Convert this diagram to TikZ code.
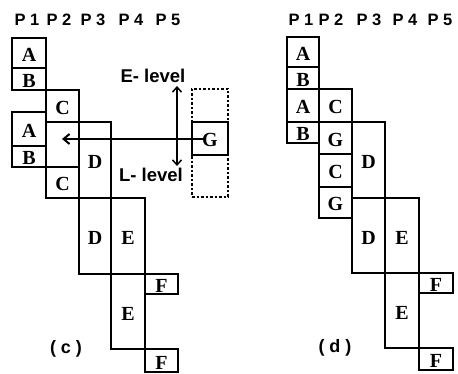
\documentclass[tikz,border=0pt]{standalone}
\usepackage{fontspec}
\newfontfamily\hdrfont{Liberation Sans}
\newfontfamily\boxfont{Liberation Serif}
\usetikzlibrary{arrows.meta}
\tikzset{
  box/.style={draw, line width=1.6pt, inner sep=0pt, text height=17pt, text depth=0pt, font=\boxfont\fontsize{20}{20}\selectfont\bfseries},
  slot/.style={draw, dashed, dash pattern=on 2.5pt off 2pt, line width=1.5pt, inner sep=0pt},
  hdr/.style={font=\hdrfont\fontsize{16.5}{16.5}\selectfont\bfseries, inner sep=0pt},
  lvl/.style={font=\hdrfont\fontsize{18.5}{18.5}\selectfont\bfseries, inner sep=0pt},
  captxt/.style={font=\hdrfont\fontsize{18}{18}\selectfont\bfseries, inner sep=0pt},
  mainarrow/.style={line width=2.6pt, -{Straight Barb[length=6pt,width=10pt,line width=2pt]}},
  levarrow/.style={line width=1.5pt, {Straight Barb[length=5pt,width=9pt]}-{Straight Barb[length=5pt,width=9pt]}}
}
\newcommand{\bx}[7][box]{\node[#1, minimum width={(#5-#3)*1pt}, minimum height={(#6-#4)*1pt}] (#2) at ({(#3+#5)/2},{(#4+#6)/2}) {#7};}
\begin{document}
\begin{tikzpicture}[x=1pt,y=-1pt]
\useasboundingbox (0,0) rectangle (458,374);
% headers (c)
\node[hdr] (hc1) at (27,20) {P 1};
\node[hdr] (hc2) at (59,20) {P 2};
\node[hdr] (hc3) at (93,20) {P 3};
\node[hdr] (hc4) at (131,20) {P 4};
\node[hdr] (hc5) at (168,20) {P 5};
% headers (d)
\node[hdr] (hd1) at (301,20) {P 1};
\node[hdr] (hd2) at (331,20) {P 2};
\node[hdr] (hd3) at (369,20) {P 3};
\node[hdr] (hd4) at (405,20) {P 4};
\node[hdr] (hd5) at (440,20) {P 5};
% diagram (c)
\bx{cA1}{12}{38}{46}{68}{A}
\bx{cB1}{12}{68}{46}{90}{B}
\bx{cC1}{46}{90}{79}{122}{C}
\bx{cA2}{12}{112}{46}{146}{A}
\bx{cB2}{12}{146}{46}{167}{B}
\bx{cVac}{46}{122}{79}{167}{}
\bx{cC2}{46}{167}{79}{198}{C}
\bx{cD1}{79}{122}{111}{198}{D}
\bx{cD2}{79}{198}{111}{274}{D}
\bx{cE1}{111}{198}{145}{274}{E}
\bx{cE2}{111}{274}{145}{349}{E}
\bx{cF1}{145}{274}{178}{294}{F\hspace{3pt}}
\bx{cF2}{145}{349}{178}{372}{F\hspace{3pt}}
\bx[slot]{cSlot}{192}{89}{228}{197}{}
\coordinate (tip) at (62,139);
\draw[mainarrow] (205,139) -- (tip);
\bx{cG}{192}{122}{228}{155}{G\hspace{3pt}}
\node[lvl] (elev) at (153,76) {E- level};
\node[lvl] (llev) at (151,175) {L- level};
\draw[levarrow] ([yshift=-3pt]elev.south -| 177,0) coordinate (lt) -- ([yshift=2pt]llev.north -| 177,0) coordinate (lb);
\node[captxt] (capc) at (66,349) {(\hspace{5pt}c\hspace{5pt})};
% diagram (d)
\bx{dA1}{287}{37}{319}{67}{A}
\bx{dB1}{287}{67}{319}{89}{B}
\bx{dA2}{287}{89}{319}{122}{A}
\bx{dB2}{287}{122}{319}{143}{B}
\bx{dC1}{319}{89}{352}{122}{C}
\bx{dG1}{319}{122}{352}{154}{G}
\bx{dC2}{319}{154}{352}{187}{C}
\bx{dG2}{319}{187}{352}{218}{G}
\bx{dD1}{352}{122}{385}{198}{D}
\bx{dD2}{352}{198}{385}{273}{D}
\bx{dE1}{385}{198}{419}{273}{E}
\bx{dE2}{385}{273}{419}{348}{E}
\bx{dF1}{419}{273}{453}{293}{F}
\bx{dF2}{419}{348}{453}{370}{F}
\node[captxt] (capd) at (335,348) {(\hspace{5pt}d\hspace{5pt})};
\end{tikzpicture}
\end{document}
